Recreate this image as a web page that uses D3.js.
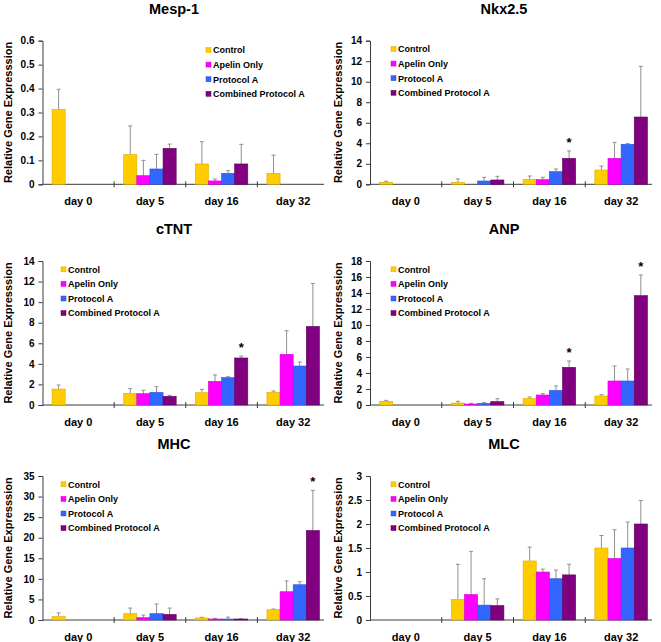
<!DOCTYPE html>
<html>
<head>
<meta charset="utf-8">
<script src="https://cdn.jsdelivr.net/npm/d3@7"></script>
<style>
  html, body { margin: 0; padding: 0; background: #fff; }
  svg { display: block; }
  text { font-family: "Liberation Sans", Arial, sans-serif; font-weight: bold; fill: #000; }
</style>
</head>
<body>
<svg id="chart" width="661" height="642"></svg>
<script>
// ---------------- data ----------------
const days = ["day 0", "day 5", "day 16", "day 32"];
const seriesNames = ["Control", "Apelin Only", "Protocol A", "Combined Protocol A"];
const seriesColors = ["#FFCC00", "#FF00FF", "#3366FF", "#800080"];
const seriesStroke = ["#D9AE00", "#D600D6", "#2A55D6", "#5E005E"];

const panelTitles = ["Mesp-1", "Nkx2.5", "cTNT", "ANP", "MHC", "MLC"];
const yLabel = "Relative Gene Expresssion";

// means per gene: [day][series]
const mesp1Mean = [[0.313, 0, 0, 0], [0.125, 0.036, 0.064, 0.150], [0.085, 0.014, 0.046, 0.085], [0.046, 0, 0, 0]];
const mesp1Err  = [[0.084, 0, 0, 0], [0.119, 0.064, 0.061, 0.018], [0.093, 0.008, 0.011, 0.082], [0.076, 0, 0, 0]];
const nkxMean = [[0.2, 0, 0, 0], [0.2, 0, 0.32, 0.42], [0.49, 0.45, 1.23, 2.53], [1.39, 2.53, 3.9, 6.56]];
const nkxErr  = [[0.1, 0, 0, 0], [0.32, 0, 0.36, 0.36], [0.32, 0.23, 0.26, 0.72], [0.39, 1.56, 0.08, 4.94]];
const ctntMean = [[1.55, 0, 0, 0], [1.13, 1.10, 1.23, 0.84], [1.20, 2.30, 2.66, 4.57], [1.23, 4.92, 3.79, 7.64]];
const ctntErr  = [[0.39, 0, 0, 0], [0.46, 0.33, 0.55, 0.10], [0.32, 0.62, 0.09, 0.19], [0.13, 2.30, 0.39, 4.18]];
const anpMean = [[0.46, 0, 0, 0], [0.25, 0.12, 0.20, 0.42], [0.83, 1.25, 1.83, 4.71], [1.13, 3.0, 3.0, 13.67]];
const anpErr  = [[0.12, 0, 0, 0], [0.21, 0.08, 0.13, 0.37], [0.17, 0.17, 0.55, 0.79], [0.16, 1.88, 1.5, 2.58]];
const mhcMean = [[0.81, 0, 0, 0], [1.54, 0.57, 1.54, 1.37], [0.49, 0.24, 0.24, 0.24], [2.5, 6.87, 8.57, 21.75]];
const mhcErr  = [[0.89, 0, 0, 0], [1.36, 0.63, 2.36, 1.53], [0.16, 0.16, 0.46, 0.06], [0.17, 2.63, 0.73, 9.75]];
const mlcMean = [[0, 0, 0, 0], [0.43, 0.53, 0.31, 0.30], [1.23, 1.0, 0.86, 0.94], [1.5, 1.28, 1.5, 2.0]];
const mlcErr  = [[0, 0, 0, 0], [0.73, 0.90, 0.55, 0.14], [0.29, 0.06, 0.18, 0.22], [0.26, 0.60, 0.54, 0.49]];

// significance marks: [day index, series index]
const mesp1Stars = [];
const nkxStars = [[2, 3]];
const ctntStars = [[2, 3]];
const anpStars = [[2, 3], [3, 3]];
const mhcStars = [[3, 3]];
const mlcStars = [];

// y-axis tick values
const mesp1Ticks = [0, 0.1, 0.2, 0.3, 0.4, 0.5, 0.6];
const nkxTicks = [0, 2, 4, 6, 8, 10, 12, 14];
const ctntTicks = [0, 2, 4, 6, 8, 10, 12, 14];
const anpTicks = [0, 2, 4, 6, 8, 10, 12, 14, 16, 18];
const mhcTicks = [0, 5, 10, 15, 20, 25, 30, 35];
const mlcTicks = [0, 0.5, 1, 1.5, 2, 2.5, 3];

const panels = [
  { title: panelTitles[0], mean: mesp1Mean, err: mesp1Err, ticks: mesp1Ticks, stars: mesp1Stars },
  { title: panelTitles[1], mean: nkxMean, err: nkxErr, ticks: nkxTicks, stars: nkxStars },
  { title: panelTitles[2], mean: ctntMean, err: ctntErr, ticks: ctntTicks, stars: ctntStars },
  { title: panelTitles[3], mean: anpMean, err: anpErr, ticks: anpTicks, stars: anpStars },
  { title: panelTitles[4], mean: mhcMean, err: mhcErr, ticks: mhcTicks, stars: mhcStars },
  { title: panelTitles[5], mean: mlcMean, err: mlcErr, ticks: mlcTicks, stars: mlcStars }
];

// ---------------- layout ----------------
const colX = [[42.5, 329], [370, 657]];
const rowY = [[40.7, 184.3], [261, 405], [476, 620]];
const titleX = [174, 504];
const legendX = [[206, 61], [391, 391]]; // [col][row==0?0:1]
const axisColor = "#3a3a3a";
const errColor = "#8f8f8f";

const svg = d3.select("#chart");

panels.forEach((p, i) => {
  const col = i % 2, row = Math.floor(i / 2);
  const [x0, x1] = colX[col];
  const [yTop, yBot] = rowY[row];
  const g = svg.append("g");

  const x = d3.scaleBand().domain(days).range([x0, x1]).padding(0);
  const xs = d3.scaleBand().domain(d3.range(seriesNames.length))
    .range([0, x.bandwidth()]).paddingInner(0).paddingOuter(0.73);
  const yMax = p.ticks[p.ticks.length - 1];
  const y = d3.scaleLinear().domain([0, yMax]).range([yBot, yTop]);

  // title
  g.append("text").attr("x", titleX[col]).attr("y", yTop - 27)
    .attr("text-anchor", "middle").style("font-size", "14.5px").text(p.title);

  // y label
  const ly = (yTop + yBot) / 2;
  const lx = (col === 0 ? 0 : 330) + 11.5;
  g.append("text").attr("transform", `translate(${lx},${ly}) rotate(-90)`)
    .attr("text-anchor", "middle").style("font-size", "11px").text(yLabel);

  // y axis
  const yAxis = d3.axisLeft(y).tickValues(p.ticks).tickSize(4).tickPadding(4)
    .tickFormat(d => String(d));
  const ya = g.append("g").attr("transform", `translate(${x0},0)`).call(yAxis);
  ya.select(".domain").attr("stroke", axisColor);
  ya.selectAll(".tick line").attr("stroke", axisColor);
  ya.selectAll(".tick text").style("font-size", "10px")
    .style("font-family", "'Liberation Sans', Arial, sans-serif").style("font-weight", "bold").attr("fill", "#000");

  // x axis with category dividers
  const xAxis = d3.axisBottom(x).tickSize(0).tickPadding(13);
  const xa = g.append("g").attr("transform", `translate(0,${yBot})`).call(xAxis);
  xa.select(".domain").attr("stroke", axisColor).attr("d", `M${x0},0H${x1 - 5}`);
  xa.selectAll(".tick text").style("font-size", "11px")
    .style("font-family", "'Liberation Sans', Arial, sans-serif").style("font-weight", "bold").attr("fill", "#000");
  g.append("g").selectAll("line").data(days.slice(1)).join("line")
    .attr("x1", d => x(d)).attr("x2", d => x(d))
    .attr("y1", yBot - 3).attr("y2", yBot + 3)
    .attr("stroke", axisColor).attr("stroke-width", 1);

  // bars
  const items = [];
  days.forEach((d, di) => {
    seriesNames.forEach((s, si) => {
      const v = p.mean[di][si];
      if (v > 0) items.push({ d, di, si, v, e: p.err[di][si] });
    });
  });

  // error bars (drawn first so bar covers lower part)
  const eg = g.append("g");
  items.forEach(it => {
    const cx = x(it.d) + xs(it.si) + xs.bandwidth() / 2;
    const yt = y(it.v + it.e);
    eg.append("line").attr("x1", cx).attr("x2", cx).attr("y1", y(it.v)).attr("y2", yt)
      .attr("stroke", errColor).attr("stroke-width", 1);
    eg.append("line").attr("x1", cx - 2).attr("x2", cx + 2).attr("y1", yt).attr("y2", yt)
      .attr("stroke", errColor).attr("stroke-width", 1);
  });

  g.append("g").selectAll("rect").data(items).join("rect")
    .attr("x", it => x(it.d) + xs(it.si))
    .attr("y", it => y(it.v))
    .attr("width", xs.bandwidth())
    .attr("height", it => yBot - y(it.v))
    .attr("fill", it => seriesColors[it.si])
    .attr("stroke", it => seriesStroke[it.si])
    .attr("stroke-width", 0.6);

  // stars
  p.stars.forEach(([di, si]) => {
    const cx = x(days[di]) + xs(si) + xs.bandwidth() / 2;
    const yt = y(p.mean[di][si] + p.err[di][si]);
    g.append("text").attr("x", cx).attr("y", yt - 4)
      .attr("text-anchor", "middle").style("font-size", "13px").text("*");
  });

  // legend
  const lgX = legendX[col][row === 0 ? 0 : 1];
  const lgY0 = yTop + (i === 0 ? 9.3 : 8.3);
  const lg = g.append("g");
  seriesNames.forEach((s, si) => {
    const cy = lgY0 + si * 14.6;
    lg.append("rect").attr("x", lgX).attr("y", cy - 2.5).attr("width", 5).attr("height", 5)
      .attr("fill", seriesColors[si]).attr("stroke", seriesStroke[si]).attr("stroke-width", 0.5);
    lg.append("text").attr("x", lgX + 7).attr("y", cy + 3.3)
      .style("font-size", "9px").text(s);
  });
});
</script>
</body>
</html>
